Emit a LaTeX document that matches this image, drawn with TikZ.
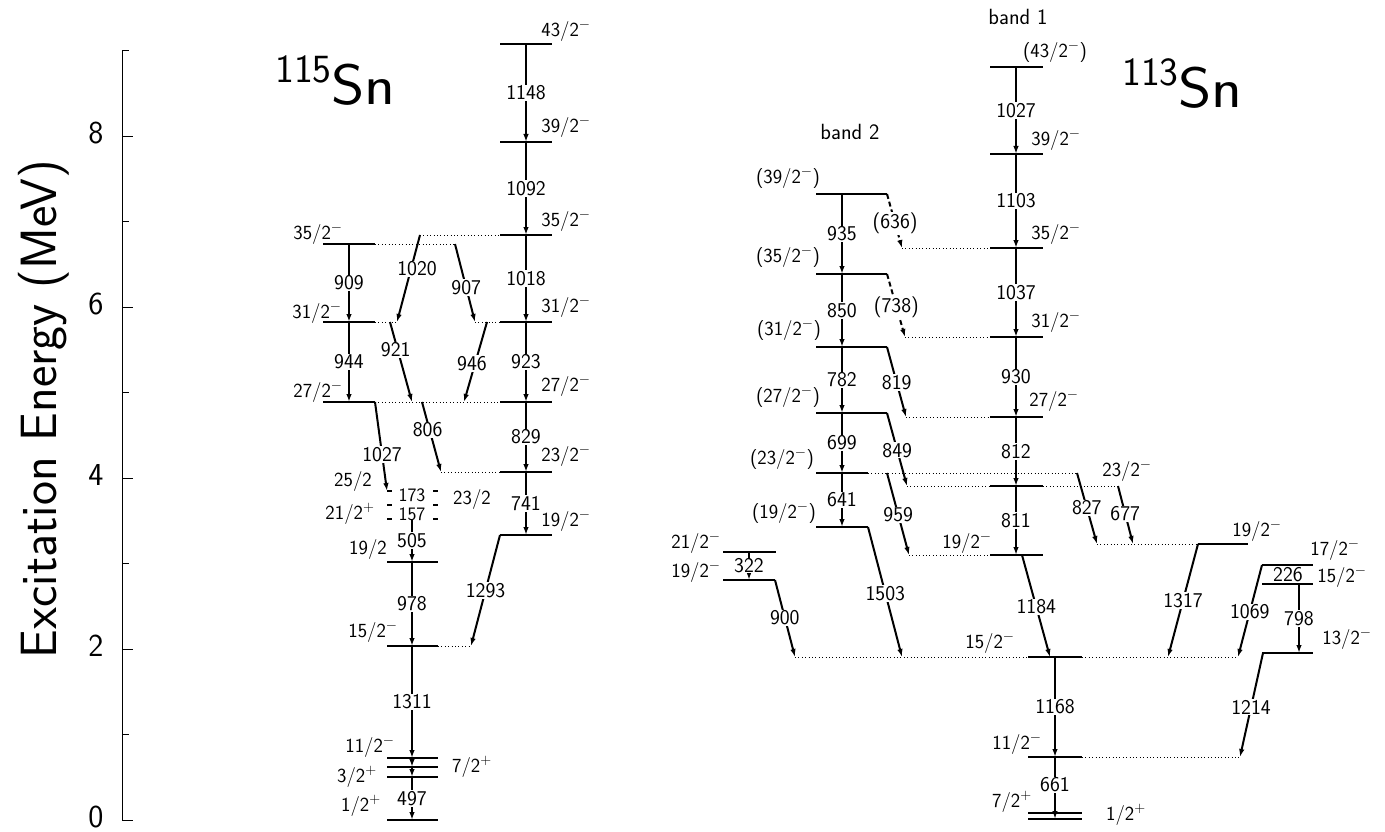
\documentclass[tikz,border=0pt]{standalone}
\usepackage{fontspec}
\usetikzlibrary{arrows.meta}
\renewcommand{\familydefault}{\sfdefault}

\begin{document}
\begin{tikzpicture}[x=1pt, y=-1pt,
    lvl/.style={line width=1.5pt},
    gnd/.style={line width=2.2pt},
    tent/.style={line width=1.5pt, dash pattern=on 5pt off 41pt},
    lnk/.style={line width=0.8pt, dash pattern=on 1pt off 2.4pt},
    tr/.style={line width=2pt, -{Latex[length=8pt,width=5.5pt]}},
    trd/.style={tr, dash pattern=on 5pt off 3pt},
    eg/.style={fill=white, inner sep=1pt, font=\fontsize{21}{21}\selectfont},
    egs/.style={fill=white, inner sep=0pt, font=\fontsize{19}{19}\selectfont},
    jp/.style={inner sep=0pt, font=\fontsize{20}{20}\selectfont},
    bnd/.style={inner sep=0pt, font=\fontsize{22}{22}\selectfont},
    iso/.style={anchor=base west, inner sep=0pt},
    tk/.style={inner sep=0pt, font=\fontsize{32}{32}\selectfont},
]
\useasboundingbox (0,0) rectangle (1385,832);

% === energy axis ===
\coordinate (ax0) at (122,820);
\coordinate (ax9) at (122,51);
\draw[line width=0.8pt] (ax0) -- (ax9);
\foreach \e in {0,2,4,6,8} {
  \draw[line width=0.8pt] (122,{820-85.5*\e}) -- ++(11,0);
  \node[tk] (tk\e) at (96,{817-85.5*\e}) {\e};
}
\foreach \e in {1,3,5,7,9}
  \draw[line width=0.8pt] (122,{820-85.5*\e}) -- ++(7,0);
\node[rotate=90, inner sep=0pt, font=\fontsize{51}{51}\selectfont] (ylab) at (44,409) {Excitation Energy (MeV)};

% === 115Sn ===
\node[iso] (iso115) at (275,105) {{\fontsize{40}{40}\selectfont\raisebox{22pt}{115}}{\fontsize{57}{57}\selectfont\scalebox{1.12}[1]{Sn}}};

% right band
\coordinate (a43) at (526,44);
\coordinate (a39) at (526,142);
\coordinate (a35) at (526,235);
\coordinate (a31) at (526,322);
\coordinate (a27) at (526,402);
\coordinate (a23) at (526,472);
\coordinate (a19) at (526,535);
\foreach \n in {a43,a39,a35,a31,a27,a23,a19}
  \draw[lvl] ([xshift=-26pt]\n) -- ([xshift=26pt]\n);

\draw[tr] (a43) -- node[eg] {1148} (a39);
\draw[tr] (a39) -- node[eg] {1092} (a35);
\draw[tr] (a35) -- node[eg] {1018} (a31);
\draw[tr] (a31) -- node[eg] {923} (a27);
\draw[tr] (a27) -- node[eg] {829} (a23);
\draw[tr] (a23) -- node[eg] {741} (a19);

\node[jp] (ja43) at (566,31) {43/2$^-$};
\node[jp] (ja39) at (566,127) {39/2$^-$};
\node[jp] (ja35) at (566,221) {35/2$^-$};
\node[jp] (ja31) at (566,307) {31/2$^-$};
\node[jp] (ja27) at (566,386) {27/2$^-$};
\node[jp] (ja23) at (566,456) {23/2$^-$};
\node[jp] (ja19) at (566,521) {19/2$^-$};

% left band
\coordinate (b35) at (349,244);
\coordinate (b31) at (349,322);
\coordinate (b27) at (349,402);
\foreach \n in {b35,b31,b27}
  \draw[lvl] ([xshift=-26pt]\n) -- ([xshift=26pt]\n);
\draw[tr] (b35) -- node[eg] {909} (b31);
\draw[tr] (b31) -- node[eg] {944} (b27);

\node[jp] (jb35) at (318,234) {35/2$^-$};
\node[jp] (jb31) at (317,313) {31/2$^-$};
\node[jp] (jb27) at (318,392) {27/2$^-$};

% crossing transitions
\coordinate (s1020) at (420,235);
\coordinate (e1020) at (397,322);
\coordinate (s907) at (455,244);
\coordinate (e907) at (475,322);
\coordinate (s921) at (390,322);
\coordinate (e921) at (412,402);
\coordinate (s946) at (487,322);
\coordinate (e946) at (464,402);
\coordinate (s806) at (422,402);
\coordinate (e806) at (441,472);
\coordinate (s1027) at (375,402);
\coordinate (e1027) at (387,491);
\coordinate (e1293) at (471,646);

\draw[lnk] (s1020) -- ([xshift=-26pt]a35);
\draw[lnk] ([xshift=26pt]b35) -- (s907);
\draw[lnk] ([xshift=26pt]b31) -- (e1020);
\draw[lnk] (e907) -- ([xshift=-26pt]a31);
\draw[lnk] ([xshift=26pt]b27) -- ([xshift=-26pt]a27);
\draw[lnk] (e806) -- ([xshift=-26pt]a23);

\draw[tr] (s1020) -- node[eg, pos=0.39, xshift=6pt] {1020} (e1020);
\draw[tr] (s907) -- node[eg, pos=0.56] {907} (e907);
\draw[tr] (s921) -- node[eg, pos=0.35, xshift=-2pt] {921} (e921);
\draw[tr] (s946) -- node[eg, pos=0.52, xshift=-3pt] {946} (e946);
\draw[tr] (s1027) -- node[eg, pos=0.59] {1027} (e1027);
\draw[tr] (s806) -- node[eg, pos=0.4, xshift=-2pt] {806} (e806);

% lower part
\coordinate (c25) at (412,491);
\coordinate (c23) at (412,505);
\coordinate (c21) at (412,519);
\coordinate (c19) at (412,562);
\coordinate (c15) at (412,646);
\coordinate (c11) at (412,758);
\coordinate (c7) at (412,767);
\coordinate (c3) at (412,777);
\coordinate (c1) at (412,820);
\foreach \n in {c25,c23,c21}
  \draw[tent] ([xshift=-25pt]\n) -- ([xshift=26pt]\n);
\foreach \n in {c19,c15,c11,c7,c3}
  \draw[lvl] ([xshift=-25pt]\n) -- ([xshift=26pt]\n);
\draw[gnd] ([xshift=-25pt]c1) -- ([xshift=26pt]c1);
\draw[lnk] ([xshift=26pt]c15) -- (e1293);

\node[egs] (g173) at (412,495) {173};
\node[egs] (g157) at (412,514) {157};
\draw[tr] (c21) -- node[eg] {505} (c19);
\draw[tr] (c19) -- node[eg] {978} (c15);
\draw[tr] (c15) -- node[eg] {1311} (c11);
\draw[tr] (c11) -- (c7);
\draw[tr] (c7) -- (c3);
\draw[tr] (c3) -- node[eg] {497} (c1);
\draw[tr] ([xshift=-26pt]a19) -- node[eg] {1293} (e1293);

\node[jp] (jc25) at (353,481) {25/2};
\node[jp] (jc23) at (472,499) {23/2};
\node[jp] (jc21) at (350,514) {21/2$^+$};
\node[jp] (jc19) at (368,549) {19/2};
\node[jp] (jc15) at (373,632) {15/2$^-$};
\node[jp] (jc11) at (370,747) {11/2$^-$};
\node[jp] (jc7) at (472,767) {7/2$^+$};
\node[jp] (jc3) at (357,777) {3/2$^+$};
\node[jp] (jc1) at (361,806) {1/2$^+$};

% === 113Sn ===
\node[iso] (iso113) at (1122,108) {{\fontsize{40}{40}\selectfont\raisebox{22pt}{113}}{\fontsize{57}{57}\selectfont\scalebox{1.12}[1]{Sn}}};
\node[bnd] (band1) at (1018,17) {band 1};
\node[bnd] (band2) at (850,132) {band 2};

% band 1
\coordinate (d43) at (1016,67);
\coordinate (d39) at (1016,154);
\coordinate (d35) at (1016,248);
\coordinate (d31) at (1016,337);
\coordinate (d27) at (1016,417);
\coordinate (d23) at (1016,486);
\coordinate (d19) at (1016,555);
\foreach \n in {d43,d39,d35,d31,d27,d23,d19}
  \draw[lvl] ([xshift=-26pt]\n) -- ([xshift=27pt]\n);

\draw[tr] (d43) -- node[eg] {1027} (d39);
\draw[tr] (d39) -- node[eg] {1103} (d35);
\draw[tr] (d35) -- node[eg] {1037} (d31);
\draw[tr] (d31) -- node[eg] {930} (d27);
\draw[tr] (d27) -- node[eg] {812} (d23);
\draw[tr] (d23) -- node[eg] {811} (d19);

\node[jp] (jd43) at (1055,52) {(43/2$^-$)};
\node[jp] (jd39) at (1056,140) {39/2$^-$};
\node[jp] (jd35) at (1056,234) {35/2$^-$};
\node[jp] (jd31) at (1056,322) {31/2$^-$};
\node[jp] (jd27) at (1054,401) {27/2$^-$};
\node[jp] (jd23) at (1127,471) {23/2$^-$};
\node[jp] (jd19) at (967,543) {19/2$^-$};

% band 2
\coordinate (f39) at (842,194);
\coordinate (f35) at (842,274);
\coordinate (f31) at (842,347);
\coordinate (f27) at (842,413);
\coordinate (f23) at (842,473);
\coordinate (f19) at (842,527);
\foreach \n in {f39,f35,f31,f27}
  \draw[lvl] ([xshift=-26pt]\n) -- ([xshift=45pt]\n);
\foreach \n in {f23,f19}
  \draw[lvl] ([xshift=-26pt]\n) -- ([xshift=26pt]\n);

\draw[tr] (f39) -- node[eg] {935} (f35);
\draw[tr] (f35) -- node[eg] {850} (f31);
\draw[tr] (f31) -- node[eg] {782} (f27);
\draw[tr] (f27) -- node[eg] {699} (f23);
\draw[tr] (f23) -- node[eg] {641} (f19);

\node[jp] (jf39) at (788,178) {(39/2$^-$)};
\node[jp] (jf35) at (788,257) {(35/2$^-$)};
\node[jp] (jf31) at (789,330) {(31/2$^-$)};
\node[jp] (jf27) at (788,397) {(27/2$^-$)};
\node[jp] (jf23) at (782,459) {(23/2$^-$)};
\node[jp] (jf19) at (784,513) {(19/2$^-$)};

% side levels
\coordinate (h21) at (749,552);
\coordinate (h19) at (749,580);
\draw[lvl] ([xshift=-26pt]h21) -- ([xshift=27pt]h21);
\draw[lvl] ([xshift=-26pt]h19) -- ([xshift=26pt]h19);
\draw[tr] (h21) -- node[eg, inner sep=0pt] {322} (h19);
\node[jp] (jh21) at (696,543) {21/2$^-$};
\node[jp] (jh19) at (696,572) {19/2$^-$};

\coordinate (g19) at (1223,544);
\coordinate (g17) at (1288,565);
\coordinate (g15) at (1288,584);
\coordinate (g13) at (1288,653);
\draw[lvl] ([xshift=-25pt]g19) -- ([xshift=25pt]g19);
\foreach \n in {g17,g15,g13}
  \draw[lvl] ([xshift=-26pt]\n) -- ([xshift=25pt]\n);
\node[eg, inner sep=0pt] (g226) at (1288,575) {226};
\node[jp] (jg19) at (1257,531) {19/2$^-$};
\node[jp] (jg17) at (1335,550) {17/2$^-$};
\node[jp] (jg15) at (1342,577) {15/2$^-$};
\node[jp] (jg13) at (1347,639) {13/2$^-$};

% low levels
\coordinate (k15) at (1055,657);
\coordinate (k11) at (1055,757);
\coordinate (k7) at (1055,813);
\coordinate (k1) at (1055,819);
\foreach \n in {k15,k11}
  \draw[lvl] ([xshift=-27pt]\n) -- ([xshift=27pt]\n);
\foreach \n in {k7,k1}
  \draw[gnd] ([xshift=-27pt]\n) -- ([xshift=27pt]\n);
\draw[tr] (k15) -- node[eg] {1168} (k11);
\draw[tr] (k11) -- node[eg, pos=0.45] {661} (k1);

\node[jp] (jk15) at (990,643) {15/2$^-$};
\node[jp] (jk11) at (1017,744) {11/2$^-$};
\node[jp] (jk7) at (1012,802) {7/2$^+$};
\node[jp] (jk1) at (1126,815) {1/2$^+$};

% out-of-band transitions
\coordinate (e636) at (902,248);
\coordinate (e738) at (905,337);
\coordinate (e819) at (906,417);
\coordinate (s959) at (887,473);
\coordinate (e849) at (907,486);
\coordinate (e959) at (909,555);
\coordinate (e1503) at (902,657);
\coordinate (s827) at (1077,473);
\coordinate (e827) at (1097,544);
\coordinate (s677) at (1118,486);
\coordinate (e677) at (1133,544);
\coordinate (s1184) at (1022,555);
\coordinate (e1184) at (1050,657);
\coordinate (e1317) at (1168,657);
\coordinate (e1069) at (1238,657);
\coordinate (s798) at (1299,584);
\coordinate (e798) at (1299,653);
\coordinate (e1214) at (1240,757);
\coordinate (e900) at (795,657);

\draw[lnk] (e636) -- ([xshift=-26pt]d35);
\draw[lnk] (e738) -- ([xshift=-26pt]d31);
\draw[lnk] (e819) -- ([xshift=-26pt]d27);
\draw[lnk] ([xshift=26pt]f23) -- (s827);
\draw[lnk] (e849) -- ([xshift=-26pt]d23);
\draw[lnk] ([xshift=27pt]d23) -- (s677);
\draw[lnk] (e959) -- ([xshift=-26pt]d19);
\draw[lnk] (e827) -- ([xshift=-25pt]g19);
\draw[lnk] (e900) -- ([xshift=-27pt]k15);
\draw[lnk] ([xshift=27pt]k15) -- (e1069);
\draw[lnk] ([xshift=27pt]k11) -- (e1214);

\draw[trd] ([xshift=45pt]f39) -- node[eg, pos=0.54] {(636)} (e636);
\draw[trd] ([xshift=45pt]f35) -- node[eg, pos=0.52] {(738)} (e738);
\draw[tr] ([xshift=45pt]f31) -- node[eg, pos=0.51] {819} (e819);
\draw[tr] ([xshift=45pt]f27) -- node[eg, pos=0.51] {849} (e849);
\draw[tr] (s959) -- node[eg, pos=0.51] {959} (e959);
\draw[tr] ([xshift=26pt]f19) -- node[eg, pos=0.51] {1503} (e1503);
\draw[tr] (s827) -- node[eg, pos=0.49] {827} (e827);
\draw[tr] (s677) -- node[eg, pos=0.48] {677} (e677);
\draw[tr] (s1184) -- node[eg, pos=0.51] {1184} (e1184);
\draw[tr] ([xshift=-25pt]g19) -- node[eg, pos=0.5] {1317} (e1317);
\draw[tr] ([xshift=-26pt]g17) -- node[eg, pos=0.51] {1069} (e1069);
\draw[tr] (s798) -- node[eg] {798} (e798);
\draw[tr] ([xshift=-25pt]g13) -- node[eg, pos=0.52] {1214} (e1214);
\draw[tr] ([xshift=26pt]h19) -- node[eg, pos=0.49] {900} (e900);

\end{tikzpicture}
\end{document}
